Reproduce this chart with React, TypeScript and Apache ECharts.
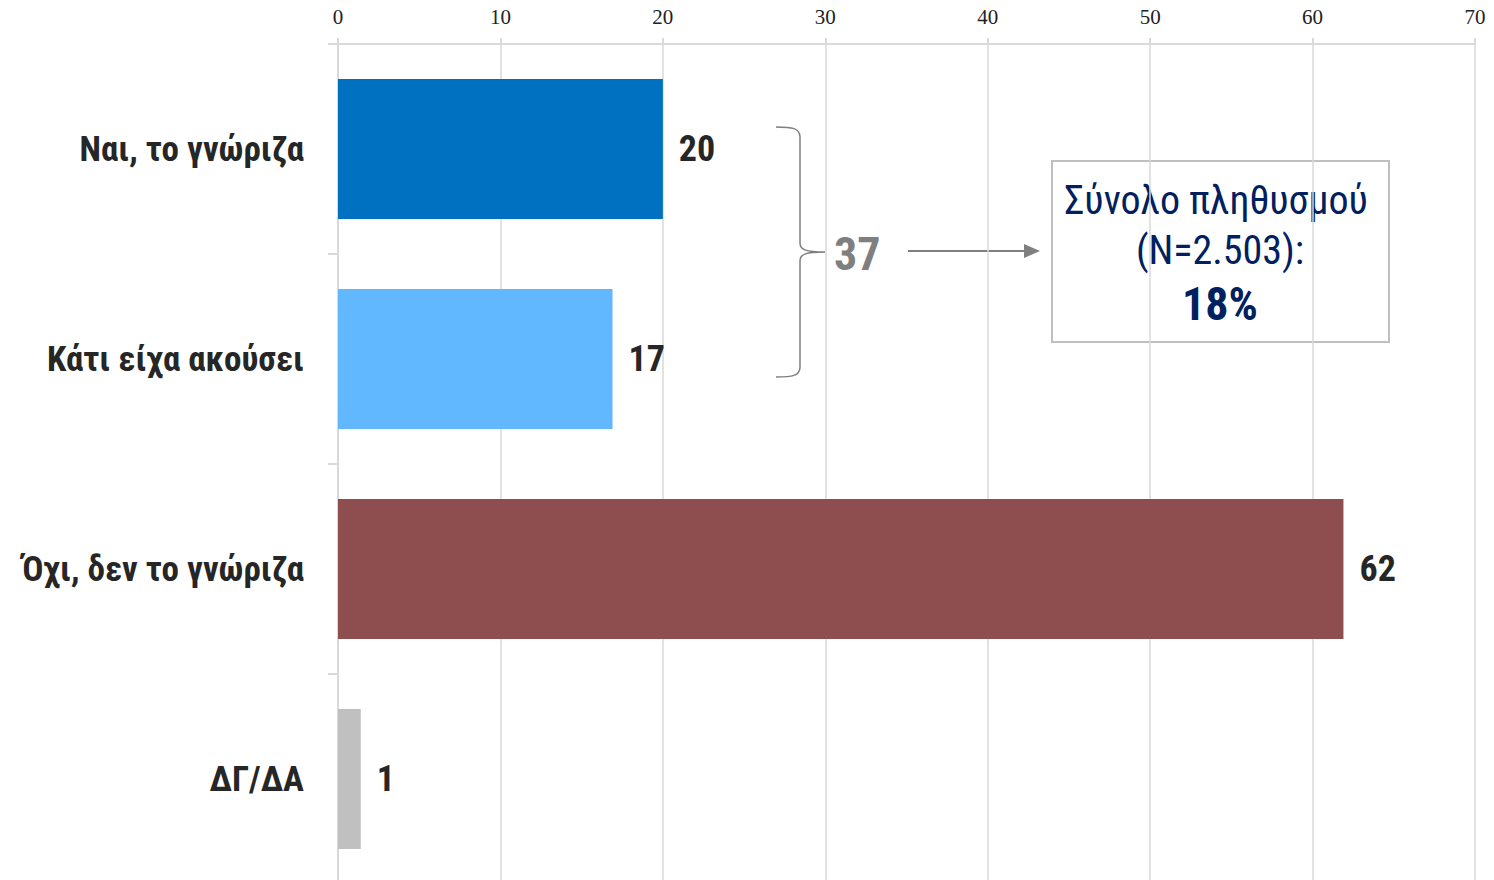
import React, { useEffect, useRef } from "react";
import * as echarts from "echarts";

const categories = ["Ναι, το γνώριζα", "Κάτι είχα ακούσει", "Όχι, δεν το γνώριζα", "ΔΓ/ΔΑ"];
const values = [20, 16.9, 61.9, 1.4];
const labels = ["20", "17", "62", "1"];
const barColors = ["#0070C0", "#62B8FE", "#8E4E4F", "#C0C0C0"];
const xTicks = { min: 0, max: 70, interval: 10 };
const sumLabel = "37";
const boxLines = ["Σύνολο πληθυσμού", "(N=2.503):", "18%"];

const SANS = '"Roboto Condensed", "Liberation Sans", sans-serif';
const SERIF = '"Liberation Serif", serif';

echarts.graphic.registerShape(
  "brace",
  echarts.graphic.extendPath(
    "M776,127 C792,127 800,128 800,137 L800,243 C800,250 806,252 825,252 C806,252 800,254 800,261 L800,367 C800,376 792,377 776,377",
    {}
  )
);

export default function App() {
  const ref = useRef<HTMLDivElement>(null);
  useEffect(() => {
    if (!ref.current) return;
    const chart = echarts.init(ref.current, undefined, { renderer: "svg" });
    chart.setOption({
      animation: false,
      grid: { left: 338, right: 19, top: 44, bottom: -4, containLabel: false, outerBoundsMode: "none" },
      xAxis: {
        type: "value",
        position: "top",
        min: xTicks.min,
        max: xTicks.max,
        interval: xTicks.interval,
        axisLine: { show: true, lineStyle: { color: "#D9D9D9", width: 2 } },
        axisTick: { show: true, length: 6, lineStyle: { color: "#D9D9D9", width: 2 } },
        splitLine: { show: true, lineStyle: { color: "#D9D9D9", width: 1.5 } },
        axisLabel: { fontFamily: SERIF, fontSize: 21, color: "#222", margin: 17 },
      },
      yAxis: {
        type: "category",
        inverse: true,
        data: categories,
        axisLine: { show: true, lineStyle: { color: "#D9D9D9", width: 2 } },
        axisTick: { show: true, length: 10, lineStyle: { color: "#D9D9D9", width: 2 } },
        axisLabel: { fontFamily: SANS, fontWeight: "bold", fontSize: 35, color: "#262626", margin: 34, padding: [4, 0, 0, 0] },
      },
      series: [
        {
          type: "bar",
          barWidth: 140,
          data: values.map((v, i) => ({ value: v, itemStyle: { color: barColors[i] } })),
          label: {
            show: true, position: "right", distance: 16, fontFamily: SANS, fontWeight: "bold",
            fontSize: 36, color: "#262626", padding: [4, 0, 0, 0], formatter: (p: any) => labels[p.dataIndex],
          },
        },
      ],
      graphic: [
        { type: "brace", x: 0, y: 0, style: { fill: "none", stroke: "#7F7F7F", lineWidth: 1.5 } },
        {
          type: "text", x: 834, y: 254,
          style: { text: sumLabel, fontFamily: SANS, fontWeight: "bold", fontSize: 46, fill: "#7F7F7F", verticalAlign: "middle", align: "left" },
        },
        { type: "line", shape: { x1: 908, y1: 251, x2: 1025, y2: 251 }, style: { stroke: "#7F7F7F", lineWidth: 2 } },
        { type: "polygon", shape: { points: [[1024, 244], [1040, 251], [1024, 258]] }, style: { fill: "#7F7F7F" } },
        { type: "rect", shape: { x: 1052, y: 161, width: 337, height: 181 }, style: { fill: "none", stroke: "#BFBFBF", lineWidth: 2 } },
        {
          type: "text", x: 1216, y: 200,
          style: { text: boxLines[0], fontFamily: SANS, fontSize: 40, fill: "#002060", align: "center", verticalAlign: "middle" },
        },
        {
          type: "text", x: 1220, y: 250,
          style: { text: boxLines[1], fontFamily: SANS, fontSize: 40, fill: "#002060", align: "center", verticalAlign: "middle" },
        },
        {
          type: "text", x: 1220, y: 304,
          style: { text: boxLines[2], fontFamily: SANS, fontWeight: "bold", fontSize: 46, fill: "#002060", align: "center", verticalAlign: "middle" },
        },
      ],
    });
    return () => chart.dispose();
  }, []);
  return <div ref={ref} style={{ position: "absolute", left: 0, top: 0, width: 1494, height: 880, background: "#fff" }} />;
}
